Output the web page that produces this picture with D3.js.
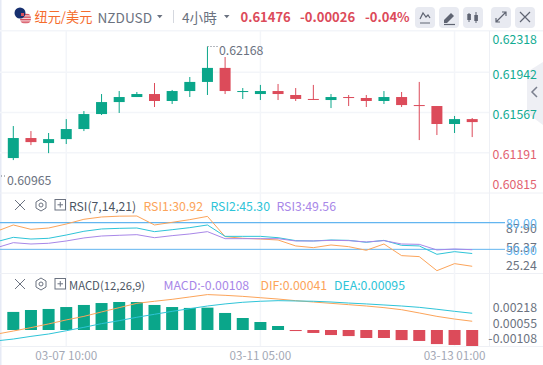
<!DOCTYPE html>
<html><head><meta charset="utf-8">
<script src="https://cdn.jsdelivr.net/npm/d3@7"></script>
<style>html,body{margin:0;padding:0;background:#fff}svg{display:block}text{font-family:"Noto Sans CJK SC","Noto Sans",sans-serif}</style>
</head><body><svg id="c" width="543" height="365"></svg>
<script>
const opens=[.61141,.61328,.61281,.61318,.61412,.61552,.61664,.61711,.61739,.61674,.61767,.61852,.61983,.61761,.61739,.61767,.61730,.61693,.61683,.61711,.61702,.61674,.61711,.61636,.61627,.61459,.61505];
const highs=[.61440,.61393,.61375,.61505,.61580,.61739,.61767,.61758,.61842,.61777,.61898,.62182,.62085,.61795,.61824,.61833,.61795,.61824,.61739,.61730,.61730,.61767,.61758,.61852,.61627,.61534,.61515];
const lows=[.61122,.61262,.61187,.61272,.61393,.61543,.61562,.61711,.61618,.61646,.61711,.61730,.61739,.61693,.61683,.61683,.61674,.61683,.61608,.61627,.61618,.61646,.61618,.61309,.61356,.61375,.61337];
const closes=[.61328,.61290,.61318,.61412,.61552,.61664,.61711,.61739,.61674,.61767,.61852,.61983,.61767,.61767,.61767,.61739,.61693,.61686,.61711,.61705,.61674,.61711,.61636,.61627,.61459,.61505,.61477];
const rsi1=[69.9,77.4,72.5,74,78.5,83.8,86.4,87.3,87.5,77.4,80.4,83.4,87.1,64.3,62.4,61.6,60.5,53.8,51.9,54.9,53,48.9,56,42.9,41.8,26,33.9,30.92];
const rsi2=[58.3,63.5,61.6,62.4,66.1,70.3,72.9,73.6,74,69.9,72.1,74.4,77.4,64.6,64.6,64.6,63.1,59.8,59.4,60.5,60.1,57.9,60.1,54.5,53.8,44.4,47.4,45.3];
const rsi3=[51.5,57.5,56,56.8,59.4,62.8,65,65.8,66.5,63.1,65.4,67.3,69.9,62,62,62,62,59.4,59.4,60.1,59.8,58.3,59.8,56,55.6,49.3,50.4,49.56];
const macdBars=[.00122,.00135,.00142,.00155,.00169,.00182,.00189,.00189,.00169,.00155,.00149,.00151,.00115,.00081,.00054,.00027,-.00007,-.00020,-.00034,-.00041,-.00054,-.00054,-.00068,-.00074,-.00095,-.00101,-.00108];
const dif=[-.00029,-.00007,.00016,.00041,.00068,.00092,.00122,.00151,.00180,.00194,.00207,.00223,.00239,.00234,.00227,.00218,.00209,.00198,.00189,.00180,.00171,.00162,.00151,.00137,.00115,.00092,.00074,.00059];
const dea=[-.00074,-.00061,-.00043,-.00027,-.00005,.00018,.00043,.00063,.00086,.00106,.00126,.00144,.00162,.00176,.00187,.00194,.00198,.00196,.00194,.00189,.00182,.00176,.00169,.00162,.00153,.00140,.00126,.00113];
const priceTicks=[.62318,.61942,.61567,.61191,.60815];
const rsiTicks=[87.90,56.37,25.24];
const rsiGuides=[80,50];
const macdTicks=["0.00218","0.00055","-0.00108"];
const timeIdx=[3,14,25];
const timeLabels=["03-07 10:00","03-11 05:00","03-13 01:00"];

const UP="#0aa68a",DOWN="#dc4b5a",GRID="#f3f5f9",TXT="#6b7280";
const OR="#fca45a",CY="#2ec4d8",PU="#a887e8",BL="#62b5f0";
const svg=d3.select("#c");
const x=d3.scaleLinear().domain([0,26]).range([13.3,472.2]);
const py=d3.scaleLinear().domain([.61942,.61191]).range([72.3,152.7]);
const ry=d3.scaleLinear().domain([80,50]).range([222.67,249.33]);
const rl=d3.scaleLinear().domain([87.9,25.24]).range([228,265]);
const my=d3.scaleLinear().domain([0,-.00108]).range([330,346]);

const text=(s,px,pyy,o={})=>svg.append("text").text(s).attr("x",px).attr("y",pyy).attr("font-size",o.size||12.3)
  .attr("fill",o.fill||TXT).attr("text-anchor",o.anchor||"start").attr("dominant-baseline","central").attr("font-weight",o.weight||400);

// frame & grid
svg.append("rect").attr("width",543).attr("height",365).attr("fill","#fff");
svg.append("rect").attr("x",0).attr("y",0).attr("width",1.5).attr("height",365).attr("fill","#e6eaf5");
svg.append("rect").attr("x",0).attr("y",30).attr("width",543).attr("height",1.5).attr("fill",GRID);
[193,273.5,346.5].forEach(v=>svg.append("line").attr("x1",0).attr("x2",543).attr("y1",v).attr("y2",v).attr("stroke","#eef0f5"));
priceTicks.slice(1,4).forEach(t=>svg.append("line").attr("x1",0).attr("x2",489).attr("y1",py(t)).attr("y2",py(t)).attr("stroke",GRID).attr("stroke-width",1.5));
timeIdx.forEach(i=>svg.append("line").attr("x1",x(i)).attr("x2",x(i)).attr("y1",31).attr("y2",346).attr("stroke",GRID).attr("stroke-width",1.5));
svg.append("line").attr("x1",489.5).attr("x2",489.5).attr("y1",31).attr("y2",346).attr("stroke","#eef0f5");

// candles
const candles=svg.append("g");
opens.forEach((o,i)=>{
  const c=closes[i],col=c>=o?UP:DOWN;
  candles.append("line").attr("x1",x(i)).attr("x2",x(i)).attr("y1",py(highs[i])).attr("y2",py(lows[i])).attr("stroke",col).attr("stroke-width",1);
  candles.append("rect").attr("x",x(i)-5.5).attr("width",11).attr("y",Math.min(py(o),py(c))).attr("height",Math.max(1,Math.abs(py(o)-py(c)))).attr("fill",col);
});
text("0.62168",219,49.5);
text("0.60965",7,179.5);
svg.append("line").attr("x1",207.5).attr("x2",218).attr("y1",46.5).attr("y2",46.5).attr("stroke",TXT).attr("stroke-dasharray","1 2");
svg.append("line").attr("x1",1).attr("x2",6).attr("y1",176).attr("y2",176).attr("stroke",TXT).attr("stroke-dasharray","1 2");

// tab
svg.append("path").attr("d","M543,62 L527,72 V113 L543,125 Z").attr("fill","#eeeff4");
svg.append("path").attr("d","M537,87 L532,92 L537,97").attr("fill","none").attr("stroke","#7a7f8e").attr("stroke-width",1.5);
// price axis
priceTicks.forEach(t=>{
  const v=Math.min(184.3,Math.max(39.3,py(t)+1.5));
  text(d3.format(".5f")(t),492.5,v,{fill:t>.6135?"#12ab92":"#e2616f"});
});

// RSI
const lineIdx=d3.line().x((d,i)=>x(i-1));
svg.append("clipPath").attr("id","pl").append("rect").attr("x",0).attr("y",194).attr("width",489).attr("height",152);
rsiGuides.forEach(g=>svg.append("line").attr("x1",0).attr("x2",505).attr("y1",ry(g)).attr("y2",ry(g)).attr("stroke",BL).attr("stroke-width",g==80?1.4:1));
[[rsi1,OR],[rsi2,CY],[rsi3,PU]].forEach(([a,c])=>svg.append("path").attr("clip-path","url(#pl)").attr("d",lineIdx.y(d=>ry(d))(a)).attr("fill","none").attr("stroke",c));
rsiTicks.forEach(t=>text(d3.format(".2f")(t),506,rl(t)));
rsiGuides.forEach(g=>text(d3.format(".2f")(g),506,ry(g)+.5,{fill:BL}));

// MACD
macdBars.forEach((v,i)=>svg.append("rect").attr("x",x(i)-6).attr("width",12)
  .attr("y",v>=0?my(v):my(0)).attr("height",Math.abs(my(v)-my(0))).attr("fill",v>=0?UP:DOWN));
[[dif,OR],[dea,CY]].forEach(([a,c])=>svg.append("path").attr("clip-path","url(#pl)").attr("d",lineIdx.y(d=>my(d))(a)).attr("fill","none").attr("stroke",c));
[306.7,322.7,337.7].forEach((v,i)=>text(macdTicks[i],537,v,{anchor:"end"}));
timeIdx.forEach((t,i)=>text(timeLabels[i],x(t),354.5,{size:11.7,fill:"#a3a8b5",anchor:"middle"}));

// indicator legends
const icon=(x0,y0)=>{
  svg.append("path").attr("d",`M${x0},${y0} l10,10 m0,-10 l-10,10`).attr("stroke","#6b7280").attr("fill","none");
  const hx=x0+26,hy=y0+5;
  svg.append("path").attr("d",`M${hx},${hy-6} l5,3 v6 l-5,3 l-5,-3 v-6 Z`).attr("stroke","#6b7280").attr("fill","none");
  svg.append("circle").attr("cx",hx).attr("cy",hy).attr("r",2).attr("stroke","#6b7280").attr("fill","none");
  svg.append("rect").attr("x",x0+40).attr("y",y0-.5).attr("width",10.5).attr("height",10.5).attr("stroke","#6b7280").attr("fill","none");
  svg.append("path").attr("d",`M${x0+42.5},${y0+4.8} h5.5 m-2.75,-2.75 v5.5`).attr("stroke","#6b7280").attr("fill","none");
};
icon(15,200);
text("RSI(7,14,21)",69,205.5,{size:12.2,fill:"#4b5563"});
text("RSI1:30.92",143.5,205.5,{fill:OR});
text("RSI2:45.30",210.5,205.5,{fill:CY});
text("RSI3:49.56",276.5,205.5,{fill:PU});
icon(15,279);
text("MACD(12,26,9)",69,284.5,{size:11.3,fill:"#4b5563"});
text("MACD:-0.00108",163.5,284.5,{fill:PU});
text("DIF:0.00041",260.5,284.5,{fill:OR});
text("DEA:0.00095",334,284.5,{fill:CY});

// header flags
svg.append("clipPath").attr("id","fu").append("circle").attr("cx",25.5).attr("cy",18.5).attr("r",5.5);
const fu=svg.append("g").attr("clip-path","url(#fu)");
fu.append("rect").attr("x",20).attr("y",13).attr("width",11).attr("height",11).attr("fill","#f4d4d8");
[14,16.5,19,21.5].forEach(v=>fu.append("rect").attr("x",20).attr("y",v).attr("width",11).attr("height",1.3).attr("fill","#d8505f"));
svg.append("clipPath").attr("id","fn").append("circle").attr("cx",20).attr("cy",13).attr("r",5.5);
const fn=svg.append("g").attr("clip-path","url(#fn)");
fn.append("rect").attr("x",14).attr("y",7).attr("width",12).attr("height",12).attr("fill","#17306f");
fn.append("rect").attr("x",21).attr("y",13).attr("width",3).attr("height",3).attr("fill","#d8505f");
text("纽元/美元",34.5,16.5,{size:13.2,fill:"#f56c2d"});
text("NZDUSD",97.5,16.5,{size:13.6,fill:"#6b7280"});
text("4小時",182,16.5,{size:13.6,fill:"#6b7280"});
svg.append("path").attr("d","M157,15 h5.5 l-2.75,3.2 Z M224,15 h5.5 l-2.75,3.2 Z").attr("fill","#6b7280");
svg.append("line").attr("x1",173.5).attr("x2",173.5).attr("y1",10).attr("y2",23).attr("stroke","#d5d8df");
text("0.61476",240.5,16,{size:13,fill:DOWN,weight:700});
text("-0.00026",300,16,{size:13,fill:DOWN,weight:700});
text("-0.04%",365,16,{size:13,fill:DOWN,weight:700});
[415,439,463,491,515].forEach(b=>svg.append("rect").attr("x",b).attr("y",7).attr("width",20).attr("height",21).attr("rx",4).attr("fill","#e8eaf1"));
const ic=(d,w=1.2)=>svg.append("path").attr("d",d).attr("fill","none").attr("stroke","#5f6472").attr("stroke-width",w);
ic("M420,19 l3,-6 l3,4 l2,-2 l2,3 M420,23 h10");
svg.append("path").attr("d","M444,20 l7,-7 l3,3 l-7,7 h-3 Z").attr("fill","#5f6472");
ic("M444,24.5 h11",1.2);
ic("M469,13 v9 M476,12 v11",1);
svg.append("rect").attr("x",467.3).attr("y",14).attr("width",3.6).attr("height",6).attr("fill","#5f6472");
svg.append("rect").attr("x",474.3).attr("y",15).attr("width",3.6).attr("height",6).attr("fill","#5f6472");
ic("M496,22 l10,-10 M502,12 h4 v4 M496,18 v4 h4");
ic("M520,12 l10,10 M530,12 l-10,10");
</script></body></html>
